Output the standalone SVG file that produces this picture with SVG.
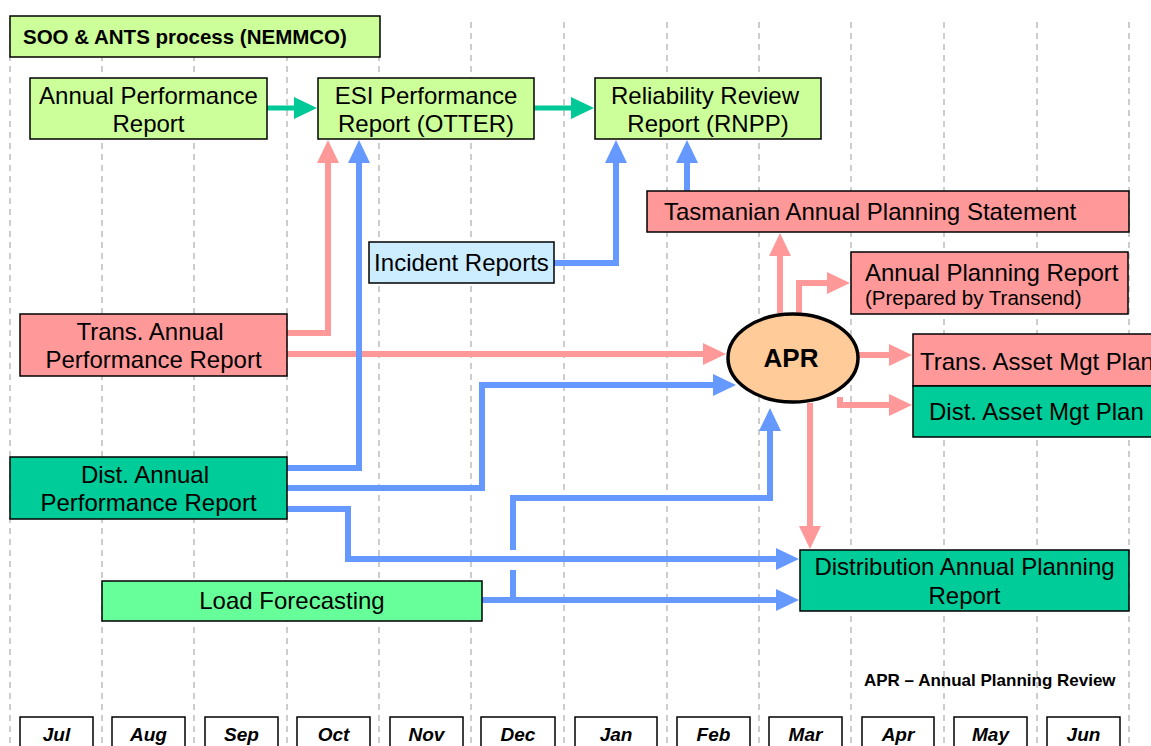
<svg xmlns="http://www.w3.org/2000/svg" width="1151" height="746" viewBox="0 0 1151 746">
<style>
text{font-family:"Liberation Sans",Arial,sans-serif;fill:#000}
.t{font-size:24px}
.s{font-size:20.5px}
.c{text-anchor:middle}
.b{stroke:#000;stroke-width:1.5}
.g{fill:#CCFF99}
.p{fill:#FF9999}
.d{fill:#00CC99}
.lb{fill:#CCECFF}
.lf{fill:#66FF99}
.grid line{stroke:#BDBDBD;stroke-width:1.5;stroke-dasharray:6 5}
.pk{fill:none;stroke:#FF9999;stroke-width:6}
.bl{fill:none;stroke:#6699FF;stroke-width:6}
.tl{fill:none;stroke:#00C896;stroke-width:5}
.m rect{fill:#fff;stroke:#000;stroke-width:1.5}
.m text{font-size:19px;font-weight:bold;font-style:italic;text-anchor:middle}
</style>
<defs>
<marker id="ap" viewBox="0 0 23 22" markerUnits="userSpaceOnUse" markerWidth="23" markerHeight="22" refX="1" refY="11" orient="auto"><path d="M0,0L23,11L0,22z" fill="#FF9999"/></marker>
<marker id="ab" viewBox="0 0 23 22" markerUnits="userSpaceOnUse" markerWidth="23" markerHeight="22" refX="1" refY="11" orient="auto"><path d="M0,0L23,11L0,22z" fill="#6699FF"/></marker>
<marker id="at" viewBox="0 0 23 22" markerUnits="userSpaceOnUse" markerWidth="23" markerHeight="22" refX="1" refY="11" orient="auto"><path d="M0,0L23,11L0,22z" fill="#00C896"/></marker>
</defs>
<rect width="1151" height="746" fill="#fff"/>
<g class="grid">
<line x1="10" y1="22" x2="10" y2="746"/>
<line x1="102" y1="22" x2="102" y2="746"/>
<line x1="194" y1="22" x2="194" y2="746"/>
<line x1="287" y1="22" x2="287" y2="746"/>
<line x1="379" y1="22" x2="379" y2="746"/>
<line x1="471" y1="22" x2="471" y2="746"/>
<line x1="564" y1="22" x2="564" y2="746"/>
<line x1="667" y1="22" x2="667" y2="746"/>
<line x1="759" y1="22" x2="759" y2="746"/>
<line x1="851" y1="22" x2="851" y2="746"/>
<line x1="944" y1="22" x2="944" y2="746"/>
<line x1="1037" y1="22" x2="1037" y2="746"/>
<line x1="1129" y1="22" x2="1129" y2="746"/>
</g>
<g id="connectors">
<path class="tl" d="M267,108H295" marker-end="url(#at)"/>
<path class="tl" d="M534,108H572" marker-end="url(#at)"/>
<path class="pk" d="M287,333H328V162" marker-end="url(#ap)"/>
<path class="pk" d="M287,354H704" marker-end="url(#ap)"/>
<path class="pk" d="M780,313V255" marker-end="url(#ap)"/>
<path class="pk" d="M799,313V283H828" marker-end="url(#ap)"/>
<path class="pk" d="M859,355H890" marker-end="url(#ap)"/>
<path class="pk" d="M840,397V405H890" marker-end="url(#ap)"/>
<path class="pk" d="M810,403V527" marker-end="url(#ap)"/>
<path class="bl" d="M287,468H359V162" marker-end="url(#ab)"/>
<path class="bl" d="M287,488H482V385H714" marker-end="url(#ab)"/>
<path class="bl" d="M287,509H348V559H777" marker-end="url(#ab)"/>
<path class="bl" d="M482,600H777" marker-end="url(#ab)"/>
<path class="bl" d="M513,600V570"/>
<path class="bl" d="M513,550V498H770V430" marker-end="url(#ab)"/>
<path class="bl" d="M554,263H616V162" marker-end="url(#ab)"/>
<path class="bl" d="M687,191V162" marker-end="url(#ab)"/>
</g>
<g id="soo"><rect class="b g" x="10" y="16" width="370" height="41"/><text x="23" y="44" style="font-size:20.5px;font-weight:bold">SOO &amp; ANTS process (NEMMCO)</text></g>
<g id="annualPerf"><rect class="b g" x="30" y="78" width="237" height="61"/><text class="t c" x="148.5" y="104">Annual Performance</text><text class="t c" x="148.5" y="132">Report</text></g>
<g id="esi"><rect class="b g" x="318" y="78" width="216" height="61"/><text class="t c" x="426" y="104">ESI Performance</text><text class="t c" x="426" y="132">Report (OTTER)</text></g>
<g id="rnpp"><rect class="b g" x="595" y="78" width="226" height="61"/><text class="t c" x="705" y="104">Reliability Review</text><text class="t c" x="708" y="132">Report (RNPP)</text></g>
<g id="taps"><rect class="b p" x="647" y="191" width="482" height="41"/><text class="t" x="664" y="220">Tasmanian Annual Planning Statement</text></g>
<g id="incident"><rect class="b lb" x="369" y="242" width="185" height="41"/><text class="t c" x="461.5" y="271">Incident Reports</text></g>
<g id="apr-transend"><rect class="b p" x="851" y="252" width="277" height="62"/><text class="t" x="865" y="281">Annual Planning Report</text><text class="s" x="865" y="305">(Prepared by Transend)</text></g>
<g id="transAnnual"><rect class="b p" x="20" y="314" width="267" height="62"/><text class="t c" x="150" y="340">Trans. Annual</text><text class="t c" x="153.5" y="368">Performance Report</text></g>
<g id="apr"><ellipse cx="793" cy="358" rx="65" ry="44" fill="#FFCC99" stroke="#000" stroke-width="3.5"/><text x="791" y="367" style="font-size:26px;font-weight:bold;text-anchor:middle">APR</text></g>
<g id="transAsset"><rect class="b p" x="913" y="334" width="250" height="52"/><text class="t" x="920" y="370">Trans. Asset Mgt Plan</text></g>
<g id="distAsset"><rect class="b d" x="913" y="386" width="250" height="51"/><text class="t" x="929" y="420">Dist. Asset Mgt Plan</text></g>
<g id="distAnnual"><rect class="b d" x="10" y="457" width="277" height="62"/><text class="t c" x="145" y="483">Dist. Annual</text><text class="t c" x="148.5" y="511">Performance Report</text></g>
<g id="distAPR"><rect class="b d" x="800" y="550" width="329" height="61"/><text class="t c" x="964.5" y="575">Distribution Annual Planning</text><text class="t c" x="964.5" y="604">Report</text></g>
<g id="load"><rect class="b lf" x="102" y="581" width="380" height="40"/><text class="t c" x="292" y="609">Load Forecasting</text></g>
<text x="864" y="686" style="font-size:17px;font-weight:bold">APR – Annual Planning Review</text>
<g class="m" id="months">
<rect x="20" y="717" width="73" height="40"/><text x="56.5" y="741">Jul</text>
<rect x="112" y="717" width="73" height="40"/><text x="148.5" y="741">Aug</text>
<rect x="205" y="717" width="73" height="40"/><text x="241.5" y="741">Sep</text>
<rect x="297" y="717" width="73" height="40"/><text x="333.5" y="741">Oct</text>
<rect x="390" y="717" width="73" height="40"/><text x="426.5" y="741">Nov</text>
<rect x="481" y="717" width="74" height="40"/><text x="518" y="741">Dec</text>
<rect x="575" y="717" width="82" height="40"/><text x="616" y="741">Jan</text>
<rect x="677" y="717" width="73" height="40"/><text x="713.5" y="741">Feb</text>
<rect x="769" y="717" width="73" height="40"/><text x="805.5" y="741">Mar</text>
<rect x="862" y="717" width="72" height="40"/><text x="898" y="741">Apr</text>
<rect x="954" y="717" width="73" height="40"/><text x="990.5" y="741">May</text>
<rect x="1047" y="717" width="73" height="40"/><text x="1083.5" y="741">Jun</text>
</g>
</svg>
